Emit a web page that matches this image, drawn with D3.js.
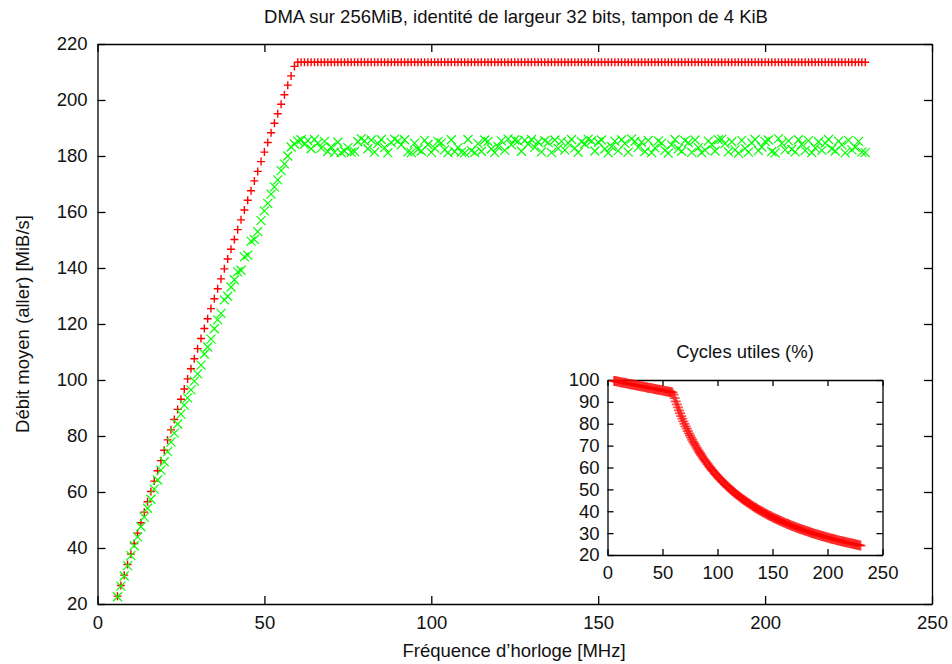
<!DOCTYPE html>
<html>
<head>
<meta charset="utf-8">
<script src="https://cdn.jsdelivr.net/npm/d3@7"></script>
<style>
  body { margin: 0; background: #fff; }
  svg { display: block; font-family: "Liberation Sans", Arial, Helvetica, sans-serif; }
</style>
</head>
<body>
<svg id="chart" width="952" height="664"></svg>
<script>
// Fréquences mesurées (MHz)
var freq = [
  6, 7, 8, 9, 10, 11, 12, 13, 14, 15, 16, 17, 18, 19, 20, 21, 22, 23, 24, 25,
  26, 27, 28, 29, 30, 31, 32, 33, 34, 35, 36, 37, 38, 39, 40, 41, 42, 43, 44, 45,
  46, 47, 48, 49, 50, 51, 52, 53, 54, 55, 56, 57, 58, 59, 60, 61, 62, 63, 64, 65,
  66, 67, 68, 69, 70, 71, 72, 73, 74, 75, 76, 77, 78, 79, 80, 81, 82, 83, 84, 85,
  86, 87, 88, 89, 90, 91, 92, 93, 94, 95, 96, 97, 98, 99, 100, 101, 102, 103, 104, 105,
  106, 107, 108, 109, 110, 111, 112, 113, 114, 115, 116, 117, 118, 119, 120, 121, 122, 123, 124, 125,
  126, 127, 128, 129, 130, 131, 132, 133, 134, 135, 136, 137, 138, 139, 140, 141, 142, 143, 144, 145,
  146, 147, 148, 149, 150, 151, 152, 153, 154, 155, 156, 157, 158, 159, 160, 161, 162, 163, 164, 165,
  166, 167, 168, 169, 170, 171, 172, 173, 174, 175, 176, 177, 178, 179, 180, 181, 182, 183, 184, 185,
  186, 187, 188, 189, 190, 191, 192, 193, 194, 195, 196, 197, 198, 199, 200, 201, 202, 203, 204, 205,
  206, 207, 208, 209, 210, 211, 212, 213, 214, 215, 216, 217, 218, 219, 220, 221, 222, 223, 224, 225,
  226, 227, 228, 229, 230
];

// Débit moyen, série rouge (+)
var debitRouge = [
  22.8, 26.6, 30.3, 34.1, 37.8, 41.6, 45.3, 49.0, 52.8, 56.5,
  60.2, 63.9, 67.6, 71.2, 74.9, 78.6, 82.2, 85.9, 89.5, 93.1,
  96.8, 100.4, 104.0, 107.6, 111.2, 114.8, 118.4, 121.9, 125.5, 129.0,
  132.6, 136.1, 139.7, 143.2, 146.7, 150.2, 153.7, 157.2, 160.7, 164.2,
  167.6, 171.1, 174.5, 178.0, 181.4, 184.8, 188.3, 191.7, 195.1, 198.5,
  201.9, 205.3, 208.6, 212.0,
  213.5, 213.5, 213.5, 213.5, 213.5, 213.5, 213.5, 213.5, 213.5, 213.5,
  213.5, 213.5, 213.5, 213.5, 213.5, 213.5, 213.5, 213.5, 213.5, 213.5,
  213.5, 213.5, 213.5, 213.5, 213.5, 213.5, 213.5, 213.5, 213.5, 213.5,
  213.5, 213.5, 213.5, 213.5, 213.5, 213.5, 213.5, 213.5, 213.5, 213.5,
  213.5, 213.5, 213.5, 213.5, 213.5, 213.5, 213.5, 213.5, 213.5, 213.5,
  213.5, 213.5, 213.5, 213.5, 213.5, 213.5, 213.5, 213.5, 213.5, 213.5,
  213.5, 213.5, 213.5, 213.5, 213.5, 213.5, 213.5, 213.5, 213.5, 213.5,
  213.5, 213.5, 213.5, 213.5, 213.5, 213.5, 213.5, 213.5, 213.5, 213.5,
  213.5, 213.5, 213.5, 213.5, 213.5, 213.5, 213.5, 213.5, 213.5, 213.5,
  213.5, 213.5, 213.5, 213.5, 213.5, 213.5, 213.5, 213.5, 213.5, 213.5,
  213.5, 213.5, 213.5, 213.5, 213.5, 213.5, 213.5, 213.5, 213.5, 213.5,
  213.5, 213.5, 213.5, 213.5, 213.5, 213.5, 213.5, 213.5, 213.5, 213.5,
  213.5, 213.5, 213.5, 213.5, 213.5, 213.5, 213.5, 213.5, 213.5, 213.5,
  213.5, 213.5, 213.5, 213.5, 213.5, 213.5, 213.5, 213.5, 213.5, 213.5,
  213.5, 213.5, 213.5, 213.5, 213.5, 213.5, 213.5, 213.5, 213.5, 213.5,
  213.5, 213.5, 213.5, 213.5, 213.5, 213.5, 213.5, 213.5, 213.5, 213.5,
  213.5, 213.5, 213.5, 213.5, 213.5, 213.5, 213.5, 213.5, 213.5, 213.5,
  213.5
];

// Débit moyen, série verte (x)
var debitVert = [
  22.6, 26.4, 30.0, 33.7, 37.3, 40.8, 44.0, 47.6, 51.0, 54.2,
  57.4, 61.0, 64.3, 67.8, 70.8, 74.4, 77.8, 81.0, 84.3, 87.8,
  91.0, 93.6, 96.5, 99.6, 102.2, 105.3, 109.3, 111.8, 114.6, 118.3,
  121.5, 123.8, 128.6, 129.9, 133.2, 135.8, 138.6, 139.2, 144.0, 144.6,
  149.6, 150.2, 153.0, 156.9, 160.4, 163.1, 166.4, 169.0, 171.5, 174.8,
  177.2, 180.0, 183.2, 184.3, 185.3,
  185.8, 184.2, 185.5, 182.6, 185.9, 184.6, 182.8, 185.2, 181.6, 183.2,
  181.3, 184.9, 181.2, 181.8, 183.0, 181.3, 181.6, 185.1, 186.2, 185.4,
  182.6, 185.7, 181.4, 184.4, 185.9, 183.0, 181.1, 184.8, 186.0, 185.3,
  184.0, 185.8, 181.5, 181.2, 184.6, 182.4, 181.8, 185.6, 184.1, 181.3,
  182.8, 185.2, 184.7, 182.2, 181.2, 185.8, 181.6, 183.0, 181.4, 181.1,
  185.9, 181.9, 181.2, 184.4, 181.7, 185.7, 185.2, 182.5, 181.2, 183.4,
  185.4, 182.0, 186.1, 184.0, 185.8, 185.3, 181.7, 185.6, 184.3, 185.9,
  183.1, 185.0, 181.5, 185.5, 184.8, 181.2, 185.7, 182.7, 185.2, 182.1,
  184.6, 185.9, 182.8, 181.3, 185.1, 184.3, 186.0, 185.4, 181.8, 184.9,
  185.7, 182.5, 181.1, 183.4, 185.3, 181.9, 185.8, 184.5, 181.4, 186.1,
  185.2, 183.1, 184.9, 181.6, 185.6, 181.2, 182.9, 185.4, 184.6, 182.0,
  181.0, 184.0, 185.9, 182.6, 181.7, 185.5, 184.8, 181.3, 185.7, 183.0,
  181.2, 182.1, 185.3, 184.1, 181.8, 185.8, 186.0, 184.4, 181.5, 185.1,
  182.2, 181.0, 185.6, 182.7, 181.4, 184.7, 185.9, 181.9, 183.2, 185.2,
  185.7, 181.6, 181.1, 186.2, 184.5, 182.2, 185.4, 182.4, 181.5, 185.8,
  184.2, 181.9, 185.5, 181.2, 182.8, 185.1, 182.0, 184.6, 185.9, 182.6,
  181.8, 185.3, 184.0, 181.1, 185.6, 182.2, 183.1, 185.2, 181.4, 181.2
];

// Cycles utiles (%) pour l'encart
var cyclesUtiles = [
  99.6, 99.5, 99.4, 99.3, 99.2, 99.1, 99.0, 98.9, 98.8, 98.7,
  98.6, 98.5, 98.4, 98.3, 98.2, 98.1, 98.0, 97.9, 97.8, 97.7,
  97.6, 97.5, 97.4, 97.3, 97.2, 97.1, 97.0, 96.9, 96.8, 96.7,
  96.6, 96.5, 96.4, 96.3, 96.2, 96.1, 96.0, 95.9, 95.8, 95.7,
  95.6, 95.5, 95.4, 95.3, 95.2, 95.1, 95.0, 94.9, 94.8, 94.7,
  94.6, 94.5, 94.4, 94.3,
  93.28, 91.75, 90.27, 88.84, 87.45, 86.10, 84.80, 83.53, 82.31, 81.11,
  79.95, 78.83, 77.73, 76.67, 75.63, 74.62, 73.64, 72.69, 71.75, 70.85,
  69.96, 69.10, 68.25, 67.43, 66.63, 65.84, 65.08, 64.33, 63.60, 62.89,
  62.19, 61.50, 60.83, 60.18, 59.54, 58.91, 58.30, 57.70, 57.11, 56.53,
  55.97, 55.41, 54.87, 54.34, 53.82, 53.30, 52.80, 52.31, 51.82, 51.35,
  50.88, 50.42, 49.97, 49.53, 49.09, 48.67, 48.25, 47.84, 47.43, 47.03,
  46.64, 46.25, 45.88, 45.50, 45.14, 44.77, 44.42, 44.07, 43.73, 43.39,
  43.05, 42.72, 42.40, 42.08, 41.77, 41.46, 41.15, 40.85, 40.56, 40.26,
  39.98, 39.69, 39.41, 39.14, 38.87, 38.60, 38.33, 38.07, 37.82, 37.56,
  37.31, 37.07, 36.82, 36.58, 36.34, 36.11, 35.88, 35.65, 35.42, 35.20,
  34.98, 34.76, 34.55, 34.34, 34.13, 33.92, 33.72, 33.51, 33.31, 33.12,
  32.92, 32.73, 32.54, 32.35, 32.17, 31.98, 31.80, 31.62, 31.44, 31.27,
  31.09, 30.92, 30.75, 30.58, 30.42, 30.25, 30.09, 29.93, 29.77, 29.61,
  29.46, 29.30, 29.15, 29.00, 28.85, 28.70, 28.56, 28.41, 28.27, 28.12,
  27.98, 27.85, 27.71, 27.57, 27.44, 27.30, 27.17, 27.04, 26.91, 26.78,
  26.65, 26.53, 26.40, 26.28, 26.15, 26.03, 25.91, 25.79, 25.67, 25.56,
  25.44, 25.33, 25.21, 25.10, 24.99, 24.87, 24.76, 24.66, 24.55, 24.44,
  24.33
];

// Graduations
var ticksX = [0, 50, 100, 150, 200, 250];
var ticksY = [20, 40, 60, 80, 100, 120, 140, 160, 180, 200, 220];
var ticksEncartY = [20, 30, 40, 50, 60, 70, 80, 90, 100];

var FONT = 18.5;
var plus = 'M-4,0H4M0,-4V4';
var plusEncart = 'M-5,0H5M0,-5V5';
var croix = 'M-4.5,-4.5L4.5,4.5M-4.5,4.5L4.5,-4.5';

var svg = d3.select('#chart');

// Draws a gnuplot-like framed panel: inward ticks on all four sides.
function drawFrame(g, x, y, xticks, yticks, tick, pad) {
  g.append('g')
      .attr('transform', 'translate(0,' + y.range()[0] + ')')
      .call(d3.axisBottom(x).tickValues(xticks).tickSizeInner(-tick).tickSizeOuter(0).tickPadding(pad.x))
      .call(styleAxis);
  g.append('g')
      .attr('transform', 'translate(0,' + y.range()[1] + ')')
      .call(d3.axisTop(x).tickValues(xticks).tickSizeInner(-tick).tickSizeOuter(0).tickFormat(''))
      .call(styleAxis);
  g.append('g')
      .attr('transform', 'translate(' + x.range()[0] + ',0)')
      .call(d3.axisLeft(y).tickValues(yticks).tickSizeInner(-tick).tickSizeOuter(0).tickPadding(pad.y))
      .call(styleAxis);
  g.append('g')
      .attr('transform', 'translate(' + x.range()[1] + ',0)')
      .call(d3.axisRight(y).tickValues(yticks).tickSizeInner(-tick).tickSizeOuter(0).tickFormat(''))
      .call(styleAxis);
}

function styleAxis(a) {
  a.attr('font-family', null).attr('font-size', FONT);
  a.select('.domain').attr('stroke', '#000').attr('stroke-width', 1.3);
  a.selectAll('.tick line').attr('stroke', '#000').attr('stroke-width', 1.3);
  a.selectAll('.tick text').attr('fill', '#111');
}

// ---- Main chart ----
var x = d3.scaleLinear().domain([0, 250]).range([97.5, 932]);
var y = d3.scaleLinear().domain([20, 220]).range([604, 44]);

var main = svg.append('g');
drawFrame(main, x, y, ticksX, ticksY, 8, {x: 12, y: 10});

main.append('g').selectAll('path')
    .data(freq)
    .enter()
    .append('path')
    .attr('d', plus)
    .attr('transform', function(d, i){ return 'translate(' + x(d) + ',' + y(debitRouge[i]) + ')'; })
    .attr('stroke', '#ff0000')
    .attr('stroke-width', 1.4)
    .attr('fill', 'none');

main.append('g').selectAll('path')
    .data(freq)
    .enter()
    .append('path')
    .attr('d', croix)
    .attr('transform', function(d, i){ return 'translate(' + x(d) + ',' + y(debitVert[i]) + ')'; })
    .attr('stroke', '#00ff00')
    .attr('stroke-width', 1.2)
    .attr('fill', 'none');

svg.append('text')
    .attr('x', 516).attr('y', 23)
    .attr('text-anchor', 'middle')
    .attr('font-size', FONT)
    .attr('fill', '#111')
    .text('DMA sur 256MiB, identité de largeur 32 bits, tampon de 4 KiB');

svg.append('text')
    .attr('x', 514).attr('y', 657)
    .attr('text-anchor', 'middle')
    .attr('font-size', FONT)
    .attr('fill', '#111')
    .text('Fréquence d\u2019horloge [MHz]');

svg.append('text')
    .attr('transform', 'translate(29,324) rotate(-90)')
    .attr('text-anchor', 'middle')
    .attr('font-size', FONT)
    .attr('fill', '#111')
    .text('Débit moyen (aller) [MiB/s]');

// ---- Inset ----
var xi = d3.scaleLinear().domain([0, 250]).range([607.5, 882.5]);
var yi = d3.scaleLinear().domain([20, 100]).range([555, 380]);

var encart = svg.append('g');
drawFrame(encart, xi, yi, ticksX, ticksEncartY, 6, {x: 11, y: 8});

encart.append('g').selectAll('path')
    .data(freq)
    .enter()
    .append('path')
    .attr('d', plusEncart)
    .attr('transform', function(d, i){ return 'translate(' + xi(d) + ',' + yi(cyclesUtiles[i]) + ')'; })
    .attr('stroke', '#ff0000')
    .attr('stroke-opacity', 0.7)
    .attr('stroke-width', 1.8)
    .attr('fill', 'none');

svg.append('text')
    .attr('x', 745).attr('y', 358)
    .attr('text-anchor', 'middle')
    .attr('font-size', FONT)
    .attr('fill', '#111')
    .text('Cycles utiles (%)');
</script>
</body>
</html>
